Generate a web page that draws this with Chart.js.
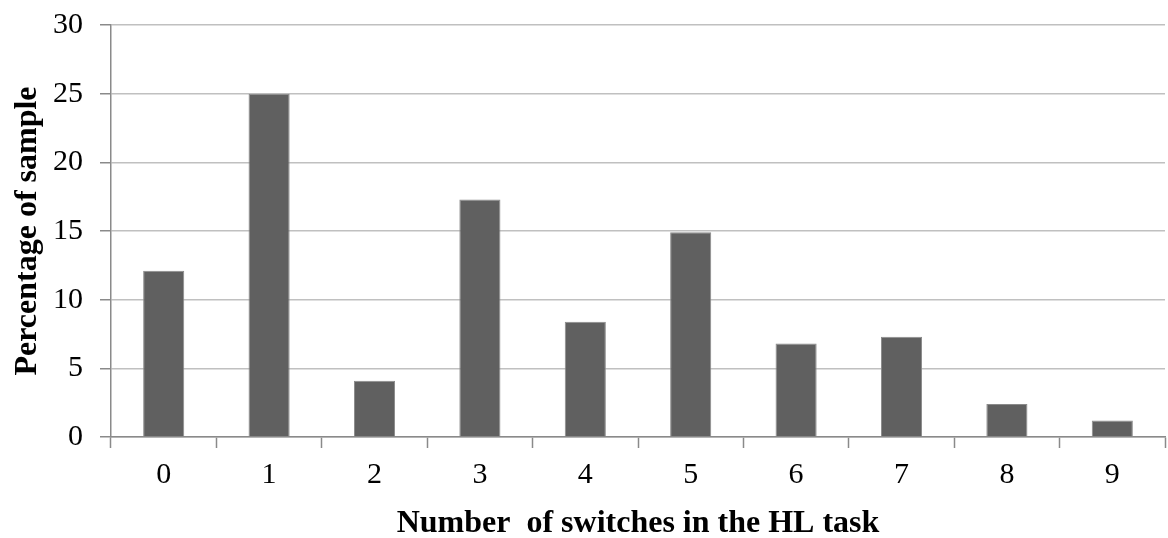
<!DOCTYPE html>
<html>
<head>
<meta charset="utf-8">
<script src="https://cdn.jsdelivr.net/npm/chart.js@4.4.0/dist/chart.umd.min.js"></script>
<style>
  html, body { margin: 0; padding: 0; background: #fff; }
  #wrap { width: 1168px; height: 538px; }
</style>
</head>
<body>
<div id="wrap"><canvas id="chart" width="1168" height="538"></canvas></div>
<script>
// data
const switchCounts = ["0", "1", "2", "3", "4", "5", "6", "7", "8", "9"];
const samplePercent = [12.1, 25.0, 4.1, 17.3, 8.4, 14.9, 6.8, 7.3, 2.4, 1.2];
const yTicks = [0, 5, 10, 15, 20, 25, 30];

const serif = "'Liberation Serif', 'Times New Roman', serif";

// strip the label overhang padding so layout padding controls the plot box
function noOverhang(scale) {
    scale.paddingTop = 0;
    scale.paddingBottom = 0;
    scale.paddingLeft = 0;
    scale.paddingRight = 0;
}

const ctx = document.getElementById("chart").getContext("2d");
new Chart(ctx, {
    type: "bar",
    data: {
        labels: switchCounts,
        datasets: [{
            label: "Percentage of sample",
            data: samplePercent,
            backgroundColor: "#606060",
            borderColor: "#8a8a8a",
            borderWidth: 1,
            borderSkipped: "bottom",
            categoryPercentage: 1.0,
            barPercentage: 0.39
        }]
    },
    options: {
        responsive: false,
        animation: false,
        events: [],
        layout: { padding: { top: 25, right: 3, bottom: 0, left: 0 } },
        plugins: {
            legend: { display: false },
            tooltip: { enabled: false }
        },
        scales: {
            x: {
                type: "category",
                grid: {
                    offset: true,
                    drawOnChartArea: false,
                    drawTicks: true,
                    tickLength: 11,
                    tickColor: "#8a8a8a",
                    tickWidth: 1.5
                },
                border: { display: true, color: "#8a8a8a", width: 1.5 },
                ticks: {
                    color: "#000",
                    padding: 9,
                    font: { family: serif, size: 30 },
                    maxRotation: 0
                },
                title: {
                    display: true,
                    text: "Number  of switches in the HL task",
                    color: "#000",
                    font: { family: serif, size: 32, weight: "bold", lineHeight: 0.9 },
                    padding: { top: 0, bottom: 0 }
                },
                afterFit(scale) {
                    noOverhang(scale);
                    scale.height = 101;
                }
            },
            y: {
                min: 0,
                max: 30,
                afterBuildTicks(scale) {
                    scale.ticks = yTicks.map(v => ({ value: v }));
                },
                grid: {
                    color: "#c0c0c0",
                    lineWidth: 1.5,
                    drawTicks: true,
                    tickLength: 11,
                    tickColor: "#8a8a8a"
                },
                border: { display: true, color: "#8a8a8a", width: 1.5 },
                ticks: {
                    color: "#000",
                    padding: 17,
                    font: { family: serif, size: 30 }
                },
                title: {
                    display: true,
                    text: "Percentage of sample",
                    color: "#000",
                    font: { family: serif, size: 32, weight: "bold" },
                    padding: { top: 9, bottom: 0 }
                },
                afterFit(scale) {
                    noOverhang(scale);
                    scale.width = 111;
                }
            }
        }
    }
});
</script>
</body>
</html>
